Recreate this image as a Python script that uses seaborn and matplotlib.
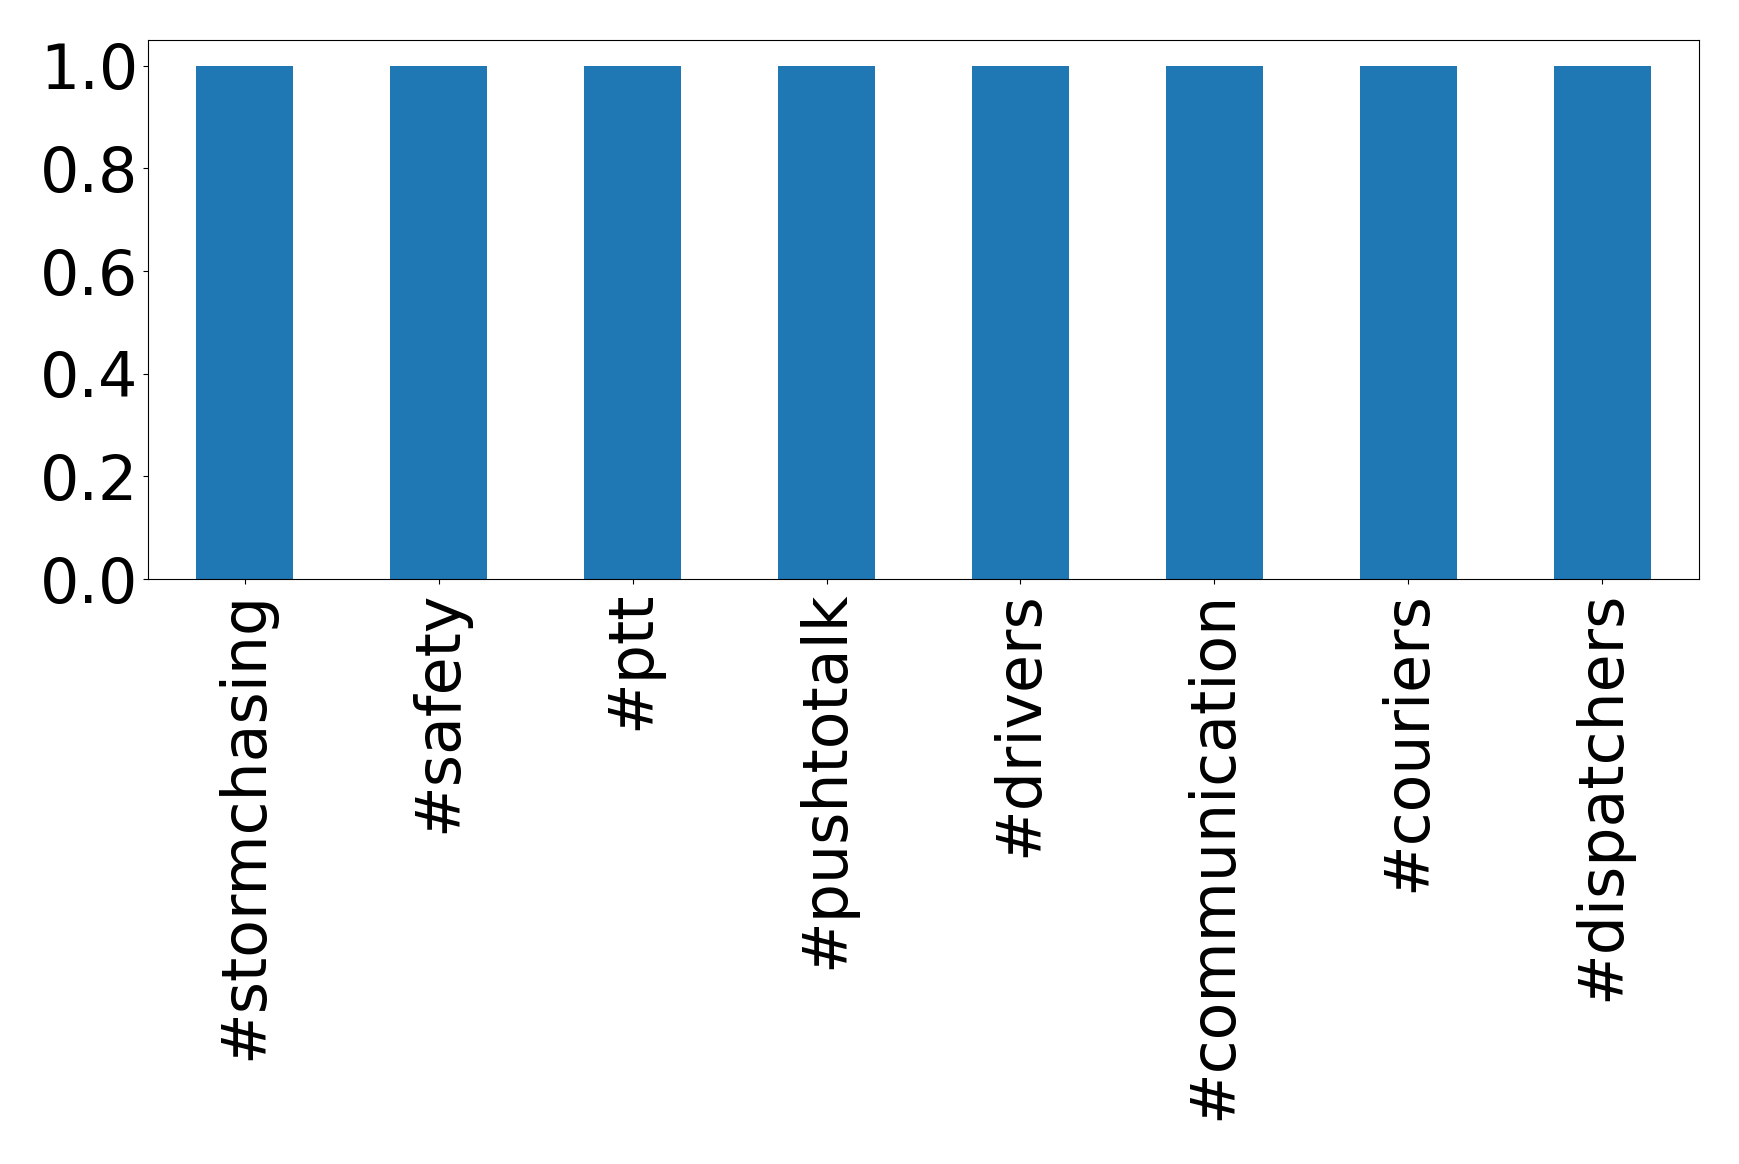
import matplotlib
matplotlib.use("Agg")
import matplotlib.pyplot as plt
import seaborn as sns
import pandas as pd

categories = ["#stormchasing", "#safety", "#ptt", "#pushtotalk", "#drivers",
              "#communication", "#couriers", "#dispatchers"]
values = [1.0, 1.0, 1.0, 1.0, 1.0, 1.0, 1.0, 1.0]

df = pd.DataFrame({"tag": categories, "value": values})

plt.rcParams['font.family'] = ['DejaVu Sans']
fig = plt.figure(figsize=(17.39, 11.64), dpi=100)
ax = fig.add_axes([148/1739, 1 - 579/1164, (1699-148)/1739, (579-40)/1164])
sns.barplot(data=df, x="tag", y="value", color="#1f77b4", saturation=1,
            width=0.5, ax=ax, errorbar=None, linewidth=0)
ax.set_xlim(-0.5, len(categories) - 0.5)
ax.set_ylim(0, 1.05)
ax.set_yticks([0.0, 0.2, 0.4, 0.6, 0.8, 1.0])
ax.set_yticklabels(["0.0", "0.2", "0.4", "0.6", "0.8", "1.0"])
ax.set_xlabel("")
ax.set_ylabel("")
ax.tick_params(axis="y", labelsize=44.5, length=3.5, pad=3.5)
ax.tick_params(axis="x", labelsize=44.5, length=3.5, pad=5)
plt.setp(ax.get_xticklabels(), rotation=90)
fig.savefig("out.png", dpi=100)
